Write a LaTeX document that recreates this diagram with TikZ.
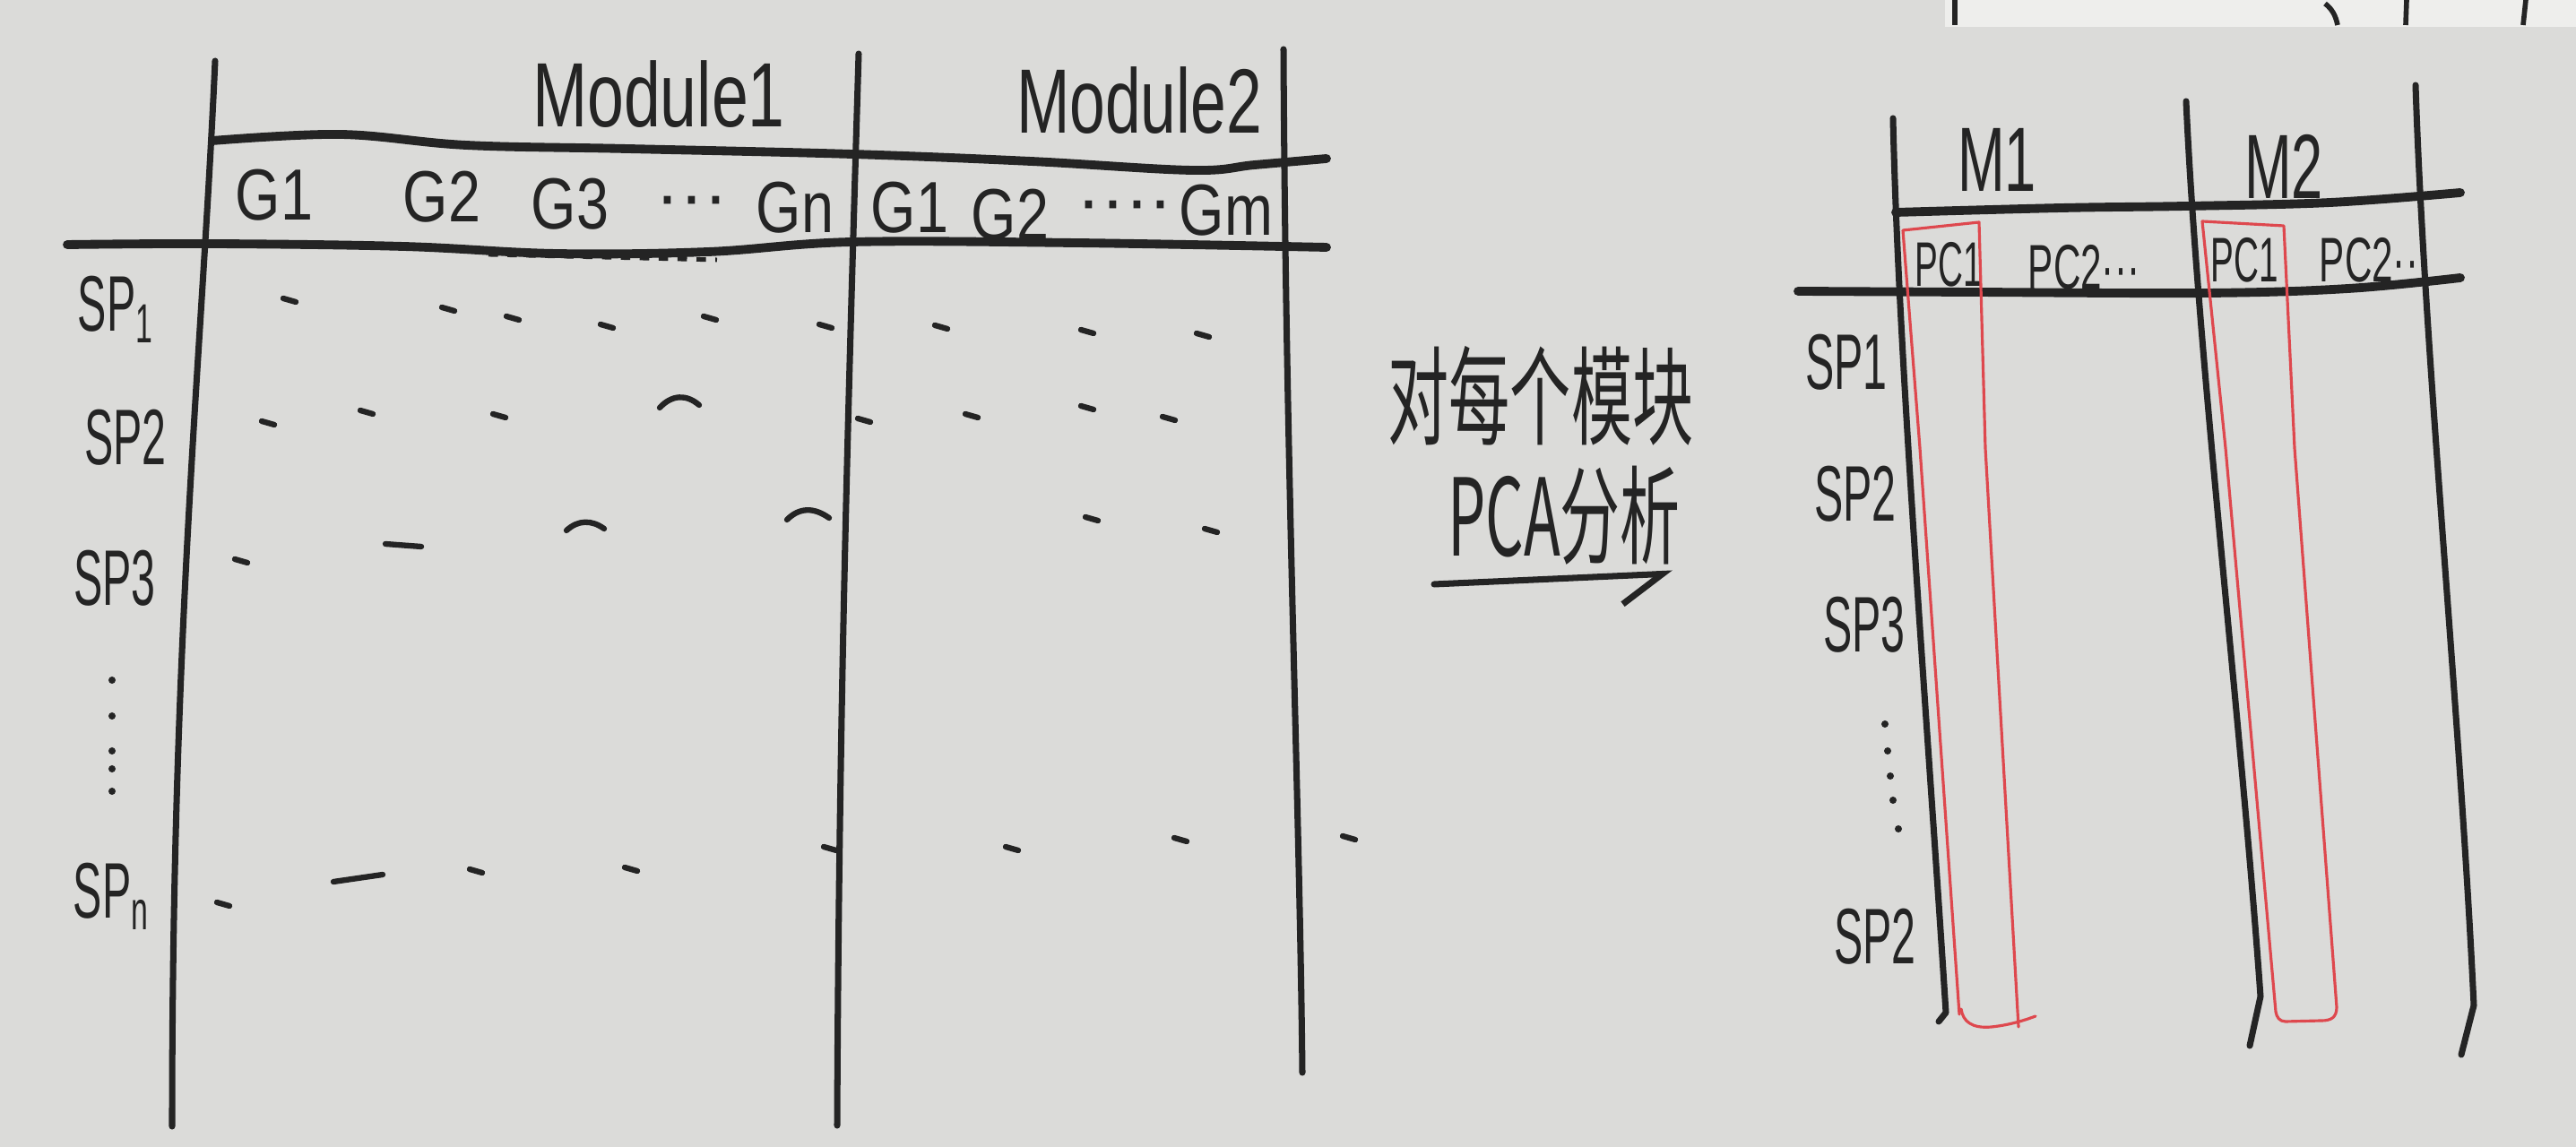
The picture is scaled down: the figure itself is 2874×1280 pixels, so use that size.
\documentclass[tikz,border=0pt]{standalone}
\usepackage{graphicx}
\usepackage{fontspec}
\setmainfont{Liberation Sans}
\newfontfamily\cjk{Noto Sans CJK SC}
\usetikzlibrary{arrows.meta}
\definecolor{paper}{RGB}{219,219,217}
\definecolor{sheet}{RGB}{238,238,236}
\definecolor{ink}{RGB}{36,36,36}
\definecolor{redpen}{RGB}{222,72,78}
\newcommand{\nar}[2]{\scalebox{#1}[1]{#2}}
\begin{document}
\begin{tikzpicture}[x=0.01cm,y=-0.01cm,
  thinline/.style={draw=ink,line width=2pt,line cap=round,line join=round},
  thickline/.style={draw=ink,line width=2.8pt,line cap=round,line join=round},
  redbox/.style={draw=redpen,line width=0.9pt,line join=round,line cap=round},
  datamark/.style={draw=ink,line width=1.8pt,line cap=round},
  vdot/.style={fill=ink,draw=none},
  modtxt/.style={text=ink,font=\fontsize{29}{33}\selectfont,inner sep=0pt},
  gtxt/.style={text=ink,font=\fontsize{23}{27}\selectfont,inner sep=0pt},
  sptxt/.style={text=ink,font=\fontsize{25}{29}\selectfont,inner sep=0pt},
  pctxt/.style={text=ink,font=\fontsize{20}{24}\selectfont,inner sep=0pt},
  cjktxt/.style={text=ink,font=\cjk\fontsize{34}{38}\selectfont,inner sep=0pt}]
\fill[paper] (0,0) rectangle (2874,1280);
\useasboundingbox (0,0) rectangle (2874,1280);
% sheet behind, top right
\fill[sheet] (2170,0) rectangle (2874,30);
\draw[ink,line width=1.6pt] (2181,0) -- (2181,28);
\draw[ink,line width=1.6pt] (2685,0) -- (2684,28);
\draw[ink,line width=1.6pt] (2818,0) -- (2815,28);
\draw[ink,line width=1.6pt] (2594,4) .. controls (2602,10) and (2606,18) .. (2608,28);

% ---------- left table ----------
\draw[thinline] (240,68) .. controls (225,400) and (192,700) .. (192,1257);
\draw[thinline] (958,60) .. controls (946,460) and (936,800) .. (934,1256);
\draw[thinline] (1432,55) .. controls (1434,500) and (1450,900) .. (1453,1197);
\draw[thickline] plot[smooth,tension=0.6] coordinates {(237,157) (380,150) (520,162) (700,166) (950,172) (1150,180) (1330,190) (1400,184) (1480,177)};
\draw[thickline] plot[smooth,tension=0.6] coordinates {(75,273) (237,272) (450,275) (620,283) (790,281) (950,270) (1200,271) (1480,276)};
\draw[draw=ink,line width=1.4pt,dashed] (545,284) -- (800,290);

\node[modtxt] (mod1) at (735,105) {\nar{0.72}{Module1}};
\node[modtxt] (mod2) at (1271,112) {\nar{0.7}{Module2}};

\node[gtxt] (g1a) at (306,218) {\nar{0.8}{G1}};
\node[gtxt] (g2a) at (493,220) {\nar{0.8}{G2}};
\node[gtxt] (g3a) at (636,228) {\nar{0.8}{G3}};
\node[gtxt] (dotsa) at (772,232) {···};
\node[gtxt] (gna) at (887,232) {\nar{0.8}{Gn}};
\node[gtxt] (g1b) at (1015,232) {\nar{0.8}{G1}};
\node[gtxt] (g2b) at (1127,240) {\nar{0.8}{G2}};
\node[gtxt] (dotsb) at (1255,237) {····};
\node[gtxt] (gmb) at (1368,235) {\nar{0.8}{Gm}};

\node[sptxt] (lsp1) at (129,345) {\nar{0.55}{SP\textsubscript{1}}};
\node[sptxt] (lsp2) at (140,488) {\nar{0.55}{SP2}};
\node[sptxt] (lsp3) at (128,645) {\nar{0.55}{SP3}};
\node[sptxt] (lspn) at (124,1000) {\nar{0.55}{SP\textsubscript{n}}};
\foreach \y in {759,799,838,858,883} \fill[vdot] (125,\y) circle (4);

% data marks
\foreach \x/\y in {316/333,493/343,565/353,670/362,785/353,914/362,1043/363,1206/368,1335/372,
                   292/470,402/458,550/462,957/467,1077/462,1206/453,1297/465,
                   262/624,1211/577,1344/590,
                   242/1007,524/970,697/968,919/945,1122/945,1310/935,1498/933}
  \draw[datamark] (\x,\y) -- ++(14,4);
\draw[datamark] (430,607) -- (470,610);
\draw[datamark] (372,984) -- (427,976);
\draw[datamark] (736,455) .. controls (750,440) and (766,440) .. (780,452);
\draw[datamark] (632,592) .. controls (645,580) and (660,580) .. (674,590);
\draw[datamark] (878,580) .. controls (892,566) and (908,566) .. (925,578);

% ---------- middle text and arrow ----------
\node[cjktxt] (t1) at (1719,442) {\nar{0.57}{对每个模块}};
\node[cjktxt] (t2) at (1745,575) {\nar{0.56}{PCA分析}};
\coordinate (arrA) at (1600,652);
\coordinate (arrB) at (1866,640);
\draw[thinline,-{Straight Barb[harpoon,swap,length=13pt,width=18pt]}] (arrA) -- (arrB);

% ---------- right table ----------
\draw[thinline] (2112,132) .. controls (2118,400) and (2150,800) .. (2171,1130) -- (2163,1140);
\draw[thinline] (2439,113) .. controls (2452,400) and (2500,800) .. (2522,1112) -- (2510,1167);
\draw[thinline] (2695,95) .. controls (2705,400) and (2745,800) .. (2760,1122) -- (2746,1177);
\draw[thickline] plot[smooth,tension=0.6] coordinates {(2115,237) (2300,232) (2439,230) (2600,226) (2745,215)};
\draw[thickline] plot[smooth,tension=0.6] coordinates {(2006,325) (2200,326) (2463,327) (2620,322) (2745,310)};

\node[modtxt] (m1) at (2228,178) {\nar{0.62}{M1}};
\node[modtxt] (m2) at (2548,186) {\nar{0.62}{M2}};

\node[pctxt] (pc1a) at (2174,295) {\nar{0.55}{PC1}};
\node[pctxt] (pc2a) at (2325,298) {\nar{0.6}{PC2···}};
\node[pctxt] (pc1b) at (2504,290) {\nar{0.55}{PC1}};
\node[pctxt] (pc2b) at (2643,290) {\nar{0.6}{PC2··}};

\draw[redbox] (2186,1132) -- (2142,500) -- (2123,257) -- (2208,248) -- (2215,500) -- (2252,1146);
\draw[redbox] (2188,1126) .. controls (2190,1140) and (2200,1148) .. (2222,1146) .. controls (2240,1144) and (2255,1140) .. (2271,1134);
\draw[redbox] (2457,247) -- (2548,252) -- (2560,500) -- (2607,1124) .. controls (2607,1136) and (2600,1139) .. (2590,1139) -- (2550,1140) .. controls (2543,1140) and (2540,1135) .. (2539,1129) -- (2483,500) -- cycle;

\node[sptxt] (rsp1) at (2060,404) {\nar{0.55}{SP1}};
\node[sptxt] (rsp2) at (2070,551) {\nar{0.55}{SP2}};
\node[sptxt] (rsp3) at (2080,697) {\nar{0.55}{SP3}};
\foreach \x/\y in {2103/808,2106/838,2109/866,2112/893,2118/925} \fill[vdot] (\x,\y) circle (4);
\node[sptxt] (rspz) at (2092,1045) {\nar{0.55}{SP2}};
\end{tikzpicture}
\end{document}
